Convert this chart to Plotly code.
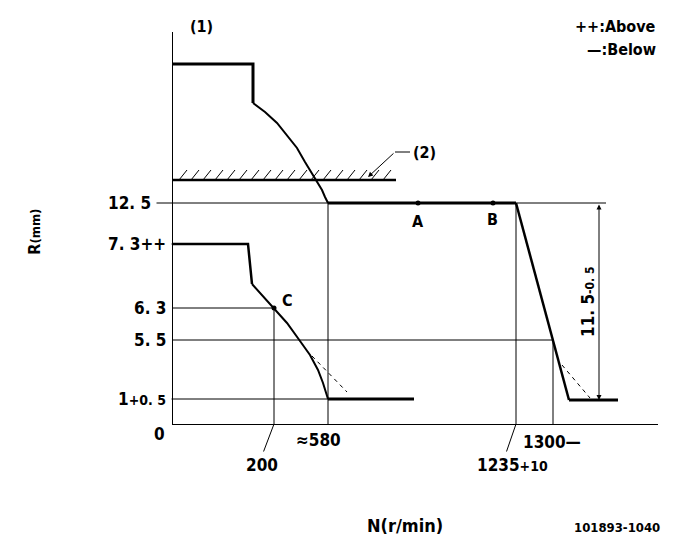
import plotly.graph_objects as go

# ---- schematic data (diagram units: x to the right of the R axis, y above the N axis) ----
# upper (reference) characteristic
upper_top_x = [0, 80, 80]
upper_top_y = [360, 360, 321]
upper_arc_x = [80, 92, 104, 114, 124, 132, 139, 144, 149, 152, 155]
upper_arc_y = [321, 312, 301, 289, 276, 262, 251, 243, 234, 227, 221]
upper_flat_x = [155, 343]
upper_flat_y = [221, 221]
upper_fall_x = [343, 396]
upper_fall_y = [221, 24]
upper_low_x = [396, 445]
upper_low_y = [24, 24]

# lower characteristic
lower_top_x = [0, 75, 79]
lower_top_y = [180, 180, 140]
lower_curve_x = [79, 101, 114, 127, 137, 145, 150, 155]
lower_curve_y = [140, 116, 101, 83, 69, 54, 41, 25]
lower_flat_x = [155, 241]
lower_flat_y = [25, 25]

# dashed alternatives
dash_left_x = [139, 174]
dash_left_y = [68, 32]
dash_right_x = [389, 417]
dash_right_y = [59, 26]

# stop line (2)
stop_x = [0, 223]
stop_y = [244, 244]

# reference levels (diagram y) and labels
level_y = [221, 180, 116, 84, 25]
level_text = ["12. 5", "7. 3++", "6. 3", "5. 5",
              '1<span style="font-size:14px">+0. 5</span>']
# speed positions (diagram x)
n200, n580, n1235, n1300 = 101, 155, 343, 380

# points
pt_x = [245, 320, 101]
pt_y = [221, 221, 116]
pt_lab = ["A", "B", "C"]

FONT = "Liberation Sans Narrow, Arial Narrow, DejaVu Sans Condensed, Liberation Sans, Arial"
BLACK = "#000000"

fig = go.Figure()

def line(x, y, w=1, dash=None, shape="linear"):
    fig.add_trace(go.Scatter(x=x, y=y, mode="lines",
                             line=dict(color=BLACK, width=w, dash=dash, shape=shape),
                             hoverinfo="skip", showlegend=False))

# thin guide lines
line([0, 433], [level_y[0], level_y[0]])
line([0, n200, n200], [level_y[2], level_y[2], 0])
line([0, n1300, n1300], [level_y[3], level_y[3], 0])
line([0, n580], [level_y[4], level_y[4]])
line([n580, n580], [0, level_y[0]])
line([n1235, n1235], [0, level_y[0]])

# hatching above the stop line
hx, hy = [], []
xh = 6
while xh < stop_x[1] - 2:
    hx += [xh, xh + 8, None]
    hy += [stop_y[0], stop_y[0] + 10, None]
    xh += 12
line(hx, hy, 1)
line(stop_x, stop_y, 2.5)

# characteristics
line(upper_top_x, upper_top_y, 3)
line(upper_arc_x, upper_arc_y, 2)
line(upper_flat_x, upper_flat_y, 3)
line(upper_fall_x, upper_fall_y, 2.5)
line(upper_low_x, upper_low_y, 3)
line(lower_top_x, lower_top_y, 2.5)
line(lower_curve_x, lower_curve_y, 2)
line(lower_flat_x, lower_flat_y, 3)
line(dash_left_x, dash_left_y, 1, "4px,4px")
line(dash_right_x, dash_right_y, 1, "4px,4px")

# (2) leader horizontal part
line([222, 237], [272, 272], 1)

# points
fig.add_trace(go.Scatter(x=pt_x, y=pt_y, mode="markers",
                         marker=dict(color=BLACK, size=5),
                         hoverinfo="skip", showlegend=False))

ann = []
def txt(text, x, y, xref="x", yref="y", size=17, **kw):
    d = dict(text=text, x=x, y=y, xref=xref, yref=yref, showarrow=False,
             xanchor="center", yanchor="middle",
             font=dict(family=FONT, size=size, color=BLACK, weight="bold"))
    d.update(kw)
    ann.append(d)

def leader(x, y, ax, ay, xref="x", yref="y", head=0, **kw):
    d = dict(text="", x=x, y=y, xref=xref, yref=yref, showarrow=True,
             ax=ax, ay=ay, arrowhead=head, arrowwidth=1, arrowcolor=BLACK)
    d.update(kw)
    ann.append(d)

# y level labels
txt(level_text[0], 0, level_y[0], xref="paper", xanchor="right", xshift=-20)
leader(0, level_y[0], -18, 0, xref="paper")
leader(0, level_y[1], -3, 0, xref="paper")
leader(0, level_y[4], -3, 0, xref="paper")
for t, yv in zip(level_text[1:], level_y[1:]):
    txt(t, 0, yv, xref="paper", xanchor="right", xshift=-5)
txt("0", 0, 0, xref="paper", xanchor="right", xshift=-6, yshift=-10)

# x labels
leader(n200, 0, -11, 29, yref="paper")
txt("200", n200, 0, yref="paper", xshift=-12, yshift=-41)
txt("≈580", n580, 0, yref="paper", xshift=-10, yshift=-16)
leader(n1235, 0, -10, 29, yref="paper")
txt('1235<span style="font-size:14px">+10</span>', n1235, 0, yref="paper", xshift=-4, yshift=-41)
txt("1300—", n1300, 0, yref="paper", xshift=-1, yshift=-18)

# point labels
txt(pt_lab[0], 245, 203, size=16)
txt(pt_lab[1], 319, 205, size=16)
txt(pt_lab[2], 114, 124, size=16)

# stop line label and arrow
txt("(2)", 251, 272, size=16)
leader(195, 247, 222, 272, axref="x", ayref="y", head=2, arrowsize=1)

# dimension arrow 11.5-0.5
leader(426, 24, 426, 221, axref="x", ayref="y", head=2, arrowside="end+start", arrowsize=1)
txt('11. 5<span style="font-size:12px">-0. 5</span>', 415, 122, textangle=-90)

# titles / notes (paper coordinates)
txt("(1)", 0.058, 1.013, xref="paper", yref="paper", size=16)
txt("++:Above", 1.0, 1.013, xref="paper", yref="paper", size=16, xanchor="right")
txt("—:Below", 1.0, 0.955, xref="paper", yref="paper", size=16, xanchor="right")
txt('R<span style="font-size:13px">(mm)</span>', -0.285, 0.49, xref="paper", yref="paper", size=16, textangle=-90)
txt("N(r/min)", 0.479, -0.258, xref="paper", yref="paper", size=18)
txt("101893-1040", 0.916, -0.263, xref="paper", yref="paper", size=13)

fig.update_layout(
    width=677, height=541,
    margin=dict(l=165, r=27, t=24, b=125),
    paper_bgcolor="white", plot_bgcolor="white",
    annotations=ann,
    xaxis=dict(range=[0, 485], showgrid=False, zeroline=False, showticklabels=False,
               ticks="", showline=True, linecolor=BLACK, linewidth=1, fixedrange=True),
    yaxis=dict(range=[0, 392], showgrid=False, zeroline=False, showticklabels=False,
               ticks="", showline=True, linecolor=BLACK, linewidth=1, fixedrange=True),
    showlegend=False,
)

fig.write_html("out.html")
